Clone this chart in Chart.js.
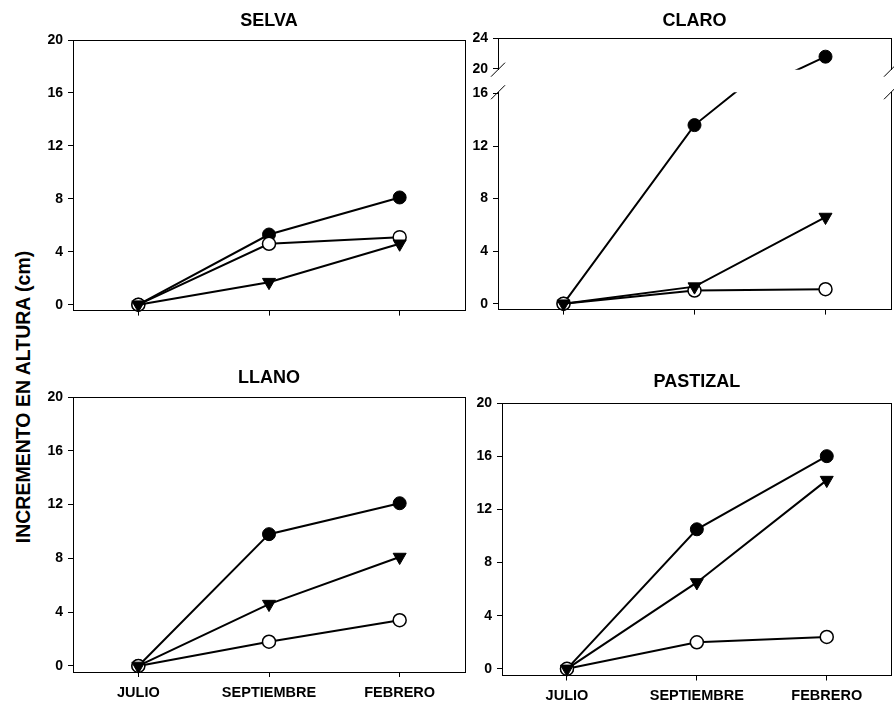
<!DOCTYPE html>
<html>
<head>
<meta charset="utf-8">
<script src="https://cdn.jsdelivr.net/npm/chart.js@4.4.1/dist/chart.umd.min.js"></script>
<style>
  html, body { margin: 0; padding: 0; background: #fff; }
  body { width: 894px; height: 703px; position: relative; overflow: hidden; }
  canvas { position: absolute; }
  #ytitle {
    position: absolute; left: 23px; top: 397px;
    transform: translate(-50%, -50%) rotate(-90deg);
    font: bold 19.5px 'Liberation Sans', Arial, sans-serif;
    white-space: nowrap; color: #000;
  }
</style>
</head>
<body>
<div id="ytitle">INCREMENTO EN ALTURA (cm)</div>
<canvas id="selva" width="439" height="314" style="left:30px;top:10px"></canvas>
<canvas id="claro" width="439" height="313" style="left:455px;top:10px"></canvas>
<canvas id="llano" width="439" height="336" style="left:30px;top:367px"></canvas>
<canvas id="pastizal" width="435" height="332" style="left:459px;top:371px"></canvas>
<script>
// Sampling months (x categories)
const months = ['JULIO', 'SEPTIEMBRE', 'FEBRERO'];

// Height increment (cm) per site; filled circle, open circle, down triangle
const selvaFilled = [0, 5.3, 8.1];
const selvaOpen = [0, 4.6, 5.1];
const selvaTriangle = [0, 1.7, 4.6];

const claroFilled = [0, 13.6, 21.6];
const claroOpen = [0, 1.0, 1.1];
const claroTriangle = [0, 1.3, 6.6];

const llanoFilled = [0, 9.8, 12.1];
const llanoOpen = [0, 1.8, 3.4];
const llanoTriangle = [0, 4.6, 8.1];

const pastizalFilled = [0, 10.5, 16.0];
const pastizalOpen = [0, 2.0, 2.4];
const pastizalTriangle = [0, 6.5, 14.2];

// Y tick values
const yTicks = [0, 4, 8, 12, 16, 20];
const claroLowerTicks = [0, 4, 8, 12, 16];
const claroUpperTicks = [20, 24];

const FONT = "'Liberation Sans', Arial, sans-serif";
Chart.defaults.font.family = FONT;
Chart.defaults.color = '#000';

const fixWidth = w => s => { s.width = w; };
const fixHeight = h => s => { s.height = h; };
const setTicks = values => s => { s.ticks = values.map(v => ({ value: v })); };

function makeDatasets(filled, open, tri, yId, clip) {
  const common = {
    xAxisID: 'x', yAxisID: yId, borderColor: '#000', borderWidth: 2,
    tension: 0, clip: clip, pointBorderColor: '#000'
  };
  return [
    Object.assign({}, common, {
      label: 'filled', data: filled, order: 2,
      pointRadius: 6.5, pointBackgroundColor: '#000', pointBorderWidth: 1
    }),
    Object.assign({}, common, {
      label: 'open', data: open, order: 1,
      pointRadius: 6.5, pointBackgroundColor: '#fff', pointBorderWidth: 1.5
    }),
    Object.assign({}, common, {
      label: 'triangle', data: tri, order: 0,
      pointStyle: 'triangle', rotation: 180,
      pointRadius: 7.5, pointBackgroundColor: '#000', pointBorderWidth: 1
    })
  ];
}

function yAxis(min, max, ticks, extra) {
  return Object.assign({
    type: 'linear', position: 'left', min: min, max: max,
    afterBuildTicks: setTicks(ticks),
    afterFit: fixWidth(43),
    ticks: { font: { size: 14, weight: 'bold' }, padding: 5, autoSkip: false },
    grid: { display: true, drawOnChartArea: false, drawTicks: true, tickLength: 5, color: '#000', lineWidth: 1 },
    border: { display: true, color: '#000', width: 1 }
  }, extra || {});
}

function xAxis(showLabels, h) {
  return {
    type: 'category', position: 'bottom', labels: months, offset: true,
    afterFit: fixHeight(h),
    ticks: { display: showLabels, font: { size: 14.5, weight: 'bold' }, padding: 7, maxRotation: 0, autoSkip: false },
    grid: { display: true, offset: false, drawOnChartArea: false, drawTicks: true, tickLength: 5, color: '#000', lineWidth: 1 },
    border: { display: true, color: '#000', width: 1 }
  };
}

// border-only axes that close the frame on top and right
function frameAxis(position, extra) {
  const horizontal = position === 'top' || position === 'bottom';
  return Object.assign({
    type: 'linear', position: position,
    ticks: { display: false },
    grid: { display: false, drawTicks: false },
    border: { display: true, color: '#000', width: 1 },
    afterFit: horizontal ? fixHeight(0) : fixWidth(0)
  }, extra || {});
}

function baseOptions(title, titlePad, padRight, scales) {
  return {
    responsive: false, animation: false, events: [],
    layout: { autoPadding: false, padding: { left: 0, top: 0, right: padRight, bottom: 0 } },
    plugins: {
      legend: { display: false },
      tooltip: { enabled: false },
      title: {
        display: true, text: title, fullSize: false, color: '#000',
        font: { size: 18, weight: 'bold', lineHeight: 1.2 },
        padding: { top: 0, bottom: titlePad }
      }
    },
    scales: scales
  };
}

function simplePanel(id, title, filled, open, tri, geo) {
  new Chart(document.getElementById(id), {
    type: 'line',
    data: { labels: months, datasets: makeDatasets(filled, open, tri, 'y', false) },
    options: baseOptions(title, geo.titlePad, geo.padRight, {
      x: xAxis(geo.labels, geo.xHeight),
      y: yAxis(geo.yMin, 20, yTicks),
      xTop: frameAxis('top'),
      yRight: frameAxis('right')
    })
  });
}

simplePanel('selva', 'SELVA', selvaFilled, selvaOpen, selvaTriangle,
  { titlePad: 8.4, padRight: 4, xHeight: 10, labels: false, yMin: -0.45 });
simplePanel('llano', 'LLANO', llanoFilled, llanoOpen, llanoTriangle,
  { titlePad: 8.4, padRight: 4, xHeight: 31, labels: true, yMin: -0.45 });
simplePanel('pastizal', 'PASTIZAL', pastizalFilled, pastizalOpen, pastizalTriangle,
  { titlePad: 10.4, padRight: 2.3, xHeight: 27.5, labels: true, yMin: -0.5 });

// CLARO: broken y axis built from two stacked scales with a blank gap between them
const breakMarks = {
  id: 'breakMarks',
  afterDraw(chart) {
    const { ctx, scales } = chart;
    const xs = [scales.y.right, scales.rLow.left];
    const ys = [scales.yUp.bottom, scales.y.top];
    ctx.save();
    ctx.strokeStyle = '#000';
    ctx.lineWidth = 1;
    for (const x of xs) {
      for (const y of ys) {
        ctx.beginPath();
        ctx.moveTo(x - 7, y + 7);
        ctx.lineTo(x + 7, y - 7);
        ctx.stroke();
      }
    }
    ctx.restore();
  }
};

const lowerClip = { left: 12, right: 12, top: 0, bottom: 12 };
const upperClip = { left: 12, right: 12, top: 12, bottom: 0 };
const claroSets = makeDatasets(claroFilled, claroOpen, claroTriangle, 'y', lowerClip);
claroSets.push(Object.assign({}, claroSets[0], { label: 'filled-upper', yAxisID: 'yUp', clip: upperClip }));

const gapAxis = (position, weight) => ({
  type: 'linear', position: position, stack: position === 'left' ? 'claroL' : 'claroR',
  stackWeight: 22.9, weight: weight,
  ticks: { display: false }, grid: { display: false, drawTicks: false }, border: { display: false },
  afterFit: fixWidth(position === 'left' ? 43 : 0)
});

new Chart(document.getElementById('claro'), {
  type: 'line',
  data: { labels: months, datasets: claroSets },
  options: baseOptions('CLARO', 6.7, 3, {
    x: xAxis(false, 10),
    yUp: yAxis(19.9, 24, claroUpperTicks, { stack: 'claroL', stackWeight: 31.8, weight: 3 }),
    yGap: gapAxis('left', 2),
    y: yAxis(-0.45, 16.1, claroLowerTicks, { stack: 'claroL', stackWeight: 220.3, weight: 1 }),
    xTop: frameAxis('top'),
    rUp: frameAxis('right', { stack: 'claroR', stackWeight: 31.8, weight: 1 }),
    rGap: gapAxis('right', 2),
    rLow: frameAxis('right', { stack: 'claroR', stackWeight: 220.3, weight: 3 })
  }),
  plugins: [breakMarks]
});
</script>
</body>
</html>
